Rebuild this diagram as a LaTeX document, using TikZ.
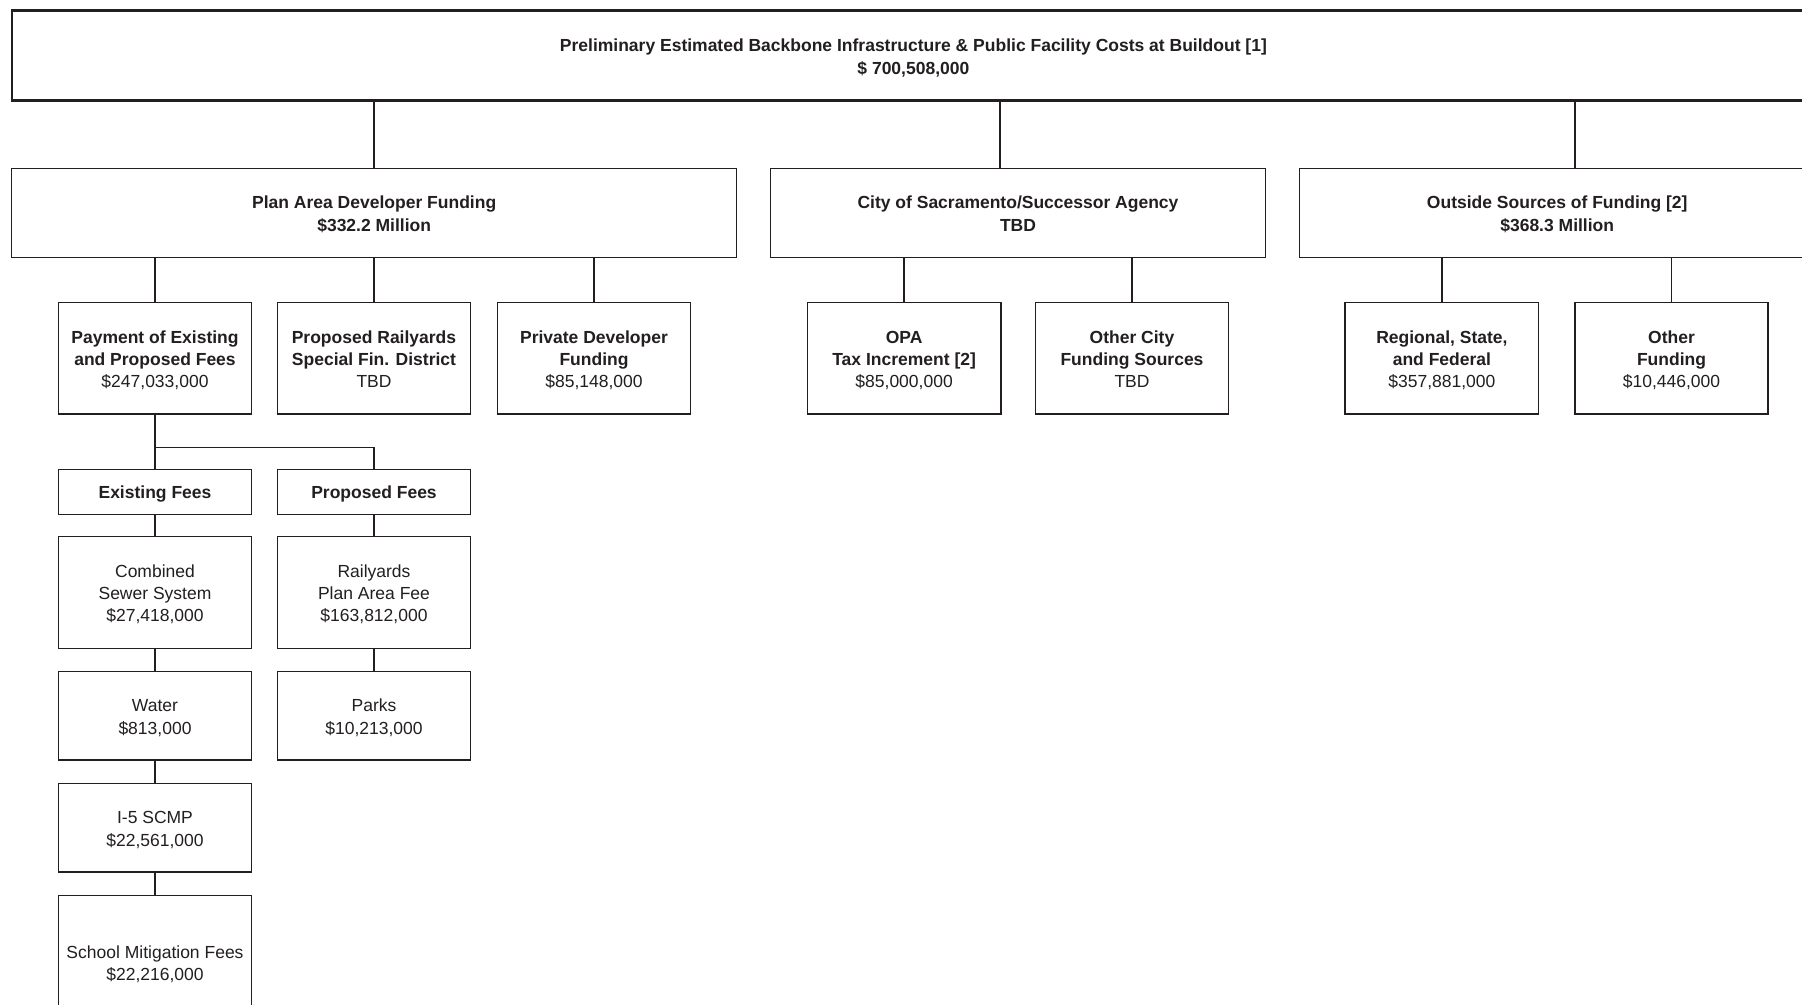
\documentclass[tikz,border=0pt]{standalone}
\usepackage{fontspec}
\setmainfont{Liberation Sans}
\definecolor{ink}{HTML}{231F20}
\newcommand\topstrut{\rule{0pt}{8.8pt}}
\newcommand\botstrut{\rule[-1.6pt]{0pt}{1pt}}
\begin{document}
\begin{tikzpicture}[x=0.5pt,y=-0.5pt,
  box/.style={draw=ink, line width=0.75pt, inner sep=0pt, outer sep=0pt, align=center,
    text=ink, font=\fontsize{8.75pt}{11.2pt}\selectfont},
  bw/.style={minimum width=#1*0.5pt},
  bh/.style={minimum height=#1*0.5pt},
  link/.style={draw=ink, line width=0.75pt},
  thick link/.style={draw=ink, line width=1.25pt}]
\path[use as bounding box, clip] (0,0) rectangle (1802,1005);
\fill[white] (0,0) rectangle (1802,1005);
% top
\node[box, line width=1.3pt, bw=1803, bh=90] (top) at (913.4,55.7)
  {\topstrut\textbf{Preliminary Estimated Backbone Infrastructure \& Public Facility Costs at Buildout [1]}\\\textbf{\$ 700,508,000}\botstrut};
% level 1
\node[box, bw=725, bh=89] (plan) at (374.2,212.8) {\topstrut\textbf{Plan Area Developer Funding}\\\textbf{\$332.2 Million}\botstrut};
\node[box, bw=495.4, bh=89] (city) at (1018,212.8) {\topstrut\textbf{City of Sacramento/Successor Agency}\\\textbf{TBD}\botstrut};
\node[box, bw=515.7, bh=89] (outside) at (1557.2,212.8) {\topstrut\textbf{Outside Sources of Funding [2]}\\\textbf{\$368.3 Million}\botstrut};
% level 2
\node[box, bw=193.4, bh=111.8] (pay) at (155,358.3) {\topstrut\textbf{Payment of Existing}\\\textbf{and Proposed Fees}\\\$247,033,000\botstrut};
\node[box, bw=193.4, bh=111.8] (rail) at (374,358.3) {\topstrut\textbf{Proposed Railyards}\\\textbf{Special Fin. District}\\TBD\botstrut};
\node[box, bw=193.4, bh=111.8] (priv) at (594,358.3) {\topstrut\textbf{Private Developer}\\\textbf{Funding}\\\$85,148,000\botstrut};
\node[box, bw=193.4, bh=111.8] (opa) at (904.1,358.3) {\topstrut\textbf{OPA}\\\textbf{Tax Increment [2]}\\\$85,000,000\botstrut};
\node[box, bw=193.4, bh=111.8] (oc) at (1132,358.3) {\topstrut\textbf{Other City}\\\textbf{Funding Sources}\\TBD\botstrut};
\node[box, bw=193.4, bh=111.8] (reg) at (1441.9,358.3) {\topstrut\textbf{Regional, State,}\\\textbf{and Federal}\\\$357,881,000\botstrut};
\node[box, bw=193.4, bh=111.8] (oth) at (1671.5,358.3) {\topstrut\textbf{Other}\\\textbf{Funding}\\\$10,446,000\botstrut};
% fees
\node[box, bw=193.4, bh=45] (exist) at (155,491.8) {\topstrut\textbf{Existing Fees}\botstrut};
\node[box, bw=193.4, bh=45] (prop) at (374,491.8) {\topstrut\textbf{Proposed Fees}\botstrut};
\node[box, bw=193.4, bh=112] (comb) at (155,592.3) {\topstrut Combined\\Sewer System\\\$27,418,000\botstrut};
\node[box, bw=193.4, bh=112] (rpaf) at (374,592.3) {\topstrut Railyards\\Plan Area Fee\\\$163,812,000\botstrut};
\node[box, bw=193.4, bh=88.7] (water) at (155,715.7) {\topstrut Water\\\$813,000\botstrut};
\node[box, bw=193.4, bh=88.7] (parks) at (374,715.7) {\topstrut Parks\\\$10,213,000\botstrut};
\node[box, bw=193.4, bh=88.7] (i5) at (155,827.7) {\topstrut I-5 SCMP\\\$22,561,000\botstrut};
\node[box, bw=193.4, bh=134.2] (school) at (155,962.4) {\topstrut School Mitigation Fees\\\$22,216,000\botstrut};
% connectors
\coordinate (c1) at (374.2,0);
\coordinate (c2) at (1000,0);
\coordinate (c3) at (1575,0);
\draw[thick link] (top.south -| c1) -- (plan.north -| c1);
\draw[thick link] (top.south -| c2) -- (city.north -| c2);
\draw[thick link] (top.south -| c3) -- (outside.north -| c3);
\draw[link] (plan.south -| pay.north) -- (pay.north);
\draw[link] (plan.south -| rail.north) -- (rail.north);
\draw[link] (plan.south -| priv.north) -- (priv.north);
\draw[link] (city.south -| opa.north) -- (opa.north);
\draw[link] (city.south -| oc.north) -- (oc.north);
\draw[link] (outside.south -| reg.north) -- (reg.north);
\draw[link] (outside.south -| oth.north) -- (oth.north);
\coordinate (j) at (155,447.3);
\draw[link] (pay.south) -- (exist.north);
\draw[link] (j) -| (prop.north);
\draw[link] (exist.south) -- (comb.north);
\draw[link] (comb.south) -- (water.north);
\draw[link] (water.south) -- (i5.north);
\draw[link] (i5.south) -- (school.north);
\draw[link] (prop.south) -- (rpaf.north);
\draw[link] (rpaf.south) -- (parks.north);
\end{tikzpicture}
\end{document}
